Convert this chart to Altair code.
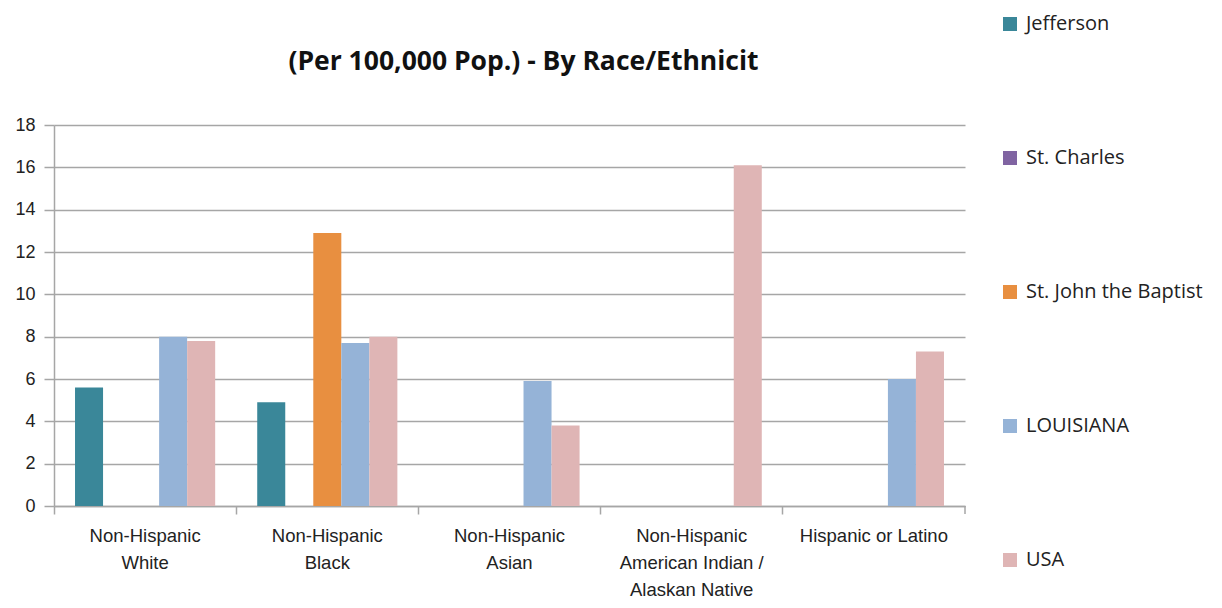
import json
import altair as alt
import pandas as pd

categories = [
    "Non-Hispanic White",
    "Non-Hispanic Black",
    "Non-Hispanic Asian",
    "Non-Hispanic American Indian / Alaskan Native",
    "Hispanic or Latino",
]
category_lines = [
    ["Non-Hispanic", "White"],
    ["Non-Hispanic", "Black"],
    ["Non-Hispanic", "Asian"],
    ["Non-Hispanic", "American Indian /", "Alaskan Native"],
    ["Hispanic or Latino"],
]
series = ["Jefferson", "St. Charles", "St. John the Baptist", "LOUISIANA", "USA"]
colors = ["#3A8799", "#8064A2", "#E88F40", "#95B3D7", "#DFB5B5"]

jefferson = [5.6, 4.9, None, None, None]
st_charles = [None, None, None, None, None]
st_john = [None, 12.9, None, None, None]
louisiana = [8.0, 7.7, 5.9, None, 6.0]
usa = [7.8, 8.0, 3.8, 16.1, 7.3]

y_ticks = [0, 2, 4, 6, 8, 10, 12, 14, 16, 18]
title_text = "(Per 100,000 Pop.) - By Race/Ethnicit"

rows = []
for s, vals in zip(series, [jefferson, st_charles, st_john, louisiana, usa]):
    for c, v in zip(categories, vals):
        if v is not None:
            rows.append({"category": c, "series": s, "value": v})
df = pd.DataFrame(rows)

label_map = json.dumps(dict(zip(categories, category_lines)))
FONT = "Liberation Sans, sans-serif"
GRID = "#A6A6A6"
W, H = 911, 381

bars = alt.Chart(df).mark_bar().encode(
    x=alt.X(
        "category:N",
        sort=categories,
        scale=alt.Scale(domain=categories, paddingInner=0, paddingOuter=0),
        axis=alt.Axis(
            title=None,
            labelAngle=0,
            labelExpr=f"{label_map}[datum.label]",
            bandPosition=0,
            tickSize=8,
            tickColor=GRID,
            tickWidth=1.5,
            domainColor=GRID,
            domainWidth=1.5,
            labelFontSize=18.5,
            labelFont=FONT,
            labelColor="#222222",
            labelLineHeight=27,
            labelPadding=12,
            labelBaseline="top",
            labelLimit=300,
        ),
    ),
    xOffset=alt.XOffset(
        "series:N",
        sort=series,
        scale=alt.Scale(domain=series, paddingInner=0, paddingOuter=0.75),
    ),
    y=alt.Y(
        "value:Q",
        scale=alt.Scale(domain=[0, 18], nice=False),
        axis=alt.Axis(
            title=None,
            values=y_ticks,
            grid=True,
            gridColor=GRID,
            gridWidth=1.5,
            tickColor=GRID,
            tickWidth=1.5,
            tickSize=10,
            domainColor=GRID,
            domainWidth=1.5,
            labelFontSize=18,
            labelFont=FONT,
            labelColor="#222222",
            labelPadding=9,
        ),
    ),
    color=alt.Color(
        "series:N",
        scale=alt.Scale(domain=series, range=colors),
        legend=alt.Legend(
            title=None,
            orient="none",
            legendX=946,
            legendY=-111,
            symbolType="square",
            symbolSize=196,
            symbolStrokeWidth=0,
            labelFontSize=20,
            labelFont="Open Sans, sans-serif",
            labelColor="#222222",
            labelLimit=400,
            rowPadding=114,
            labelOffset=6,
        ),
    ),
)

end_tick = alt.Chart(pd.DataFrame({"k": [0]})).mark_rule(color=GRID, strokeWidth=1.5).encode(
    x=alt.value(W), y=alt.value(H), y2=alt.value(H + 8)
)

chart = (
    alt.layer(bars, end_tick)
    .properties(
        width=W,
        height=H,
        autosize=alt.AutoSizeParams(type="none"),
        padding={"left": 46, "top": 117, "right": 249, "bottom": 94},
        title=alt.TitleParams(
            title_text,
            fontSize=26.5,
            font="Open Sans, sans-serif",
            fontWeight="bold",
            color="#111111",
            anchor="middle",
            frame="group",
            offset=0,
            dx=14,
            dy=61,
        ),
    )
    .configure_view(stroke=None)
)

chart.save("out.html", embed_options={"renderer": "svg", "actions": False})
